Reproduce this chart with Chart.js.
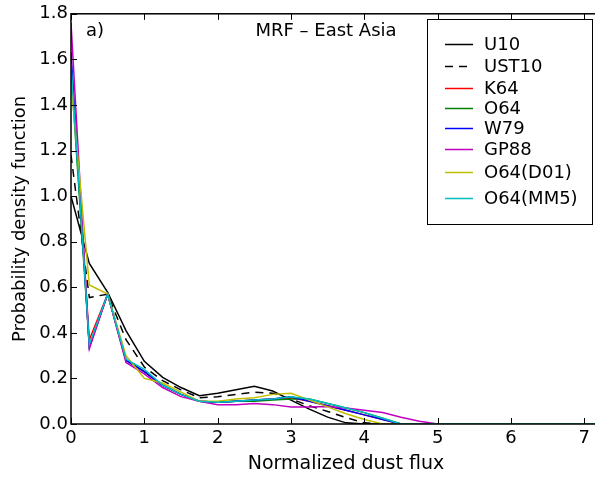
<!DOCTYPE html>
<html>
<head>
<meta charset="utf-8">
<title>MRF - East Asia</title>
<script src="https://cdn.jsdelivr.net/npm/chart.js@4/dist/chart.umd.min.js"></script>
<style>
  html, body { margin: 0; padding: 0; background: #fff; overflow: hidden; }
  #wrap { width: 595px; height: 478px; overflow: hidden; }
</style>
</head>
<body>
<div id="wrap"><canvas id="chart" width="640" height="478"></canvas></div>
<script>
// flux bins (normalized dust flux)
const fluxBins = [0, 0.25, 0.5, 0.75, 1, 1.25, 1.5, 1.75, 2, 2.25, 2.5, 2.75, 3, 3.25, 3.5, 3.75,
  4, 4.25, 4.5, 4.75, 5, 5.25, 5.5, 5.75, 6, 6.25, 6.5, 6.75, 7, 7.25, 7.5];

// PDF of each scheme
const u10 = [1.00, 0.705, 0.578, 0.41, 0.275, 0.205, 0.16, 0.124, 0.135, 0.15, 0.166, 0.145, 0.105, 0.065, 0.03, 0.005,
  0, 0, 0, 0, 0, 0, 0, 0, 0, 0, 0, 0, 0, 0, 0];
const ust10 = [1.18, 0.555, 0.57, 0.37, 0.25, 0.19, 0.15, 0.115, 0.12, 0.13, 0.14, 0.135, 0.11, 0.08, 0.055, 0.028,
  0.005, 0, 0, 0, 0, 0, 0, 0, 0, 0, 0, 0, 0, 0, 0];
const k64 = [1.60, 0.37, 0.57, 0.28, 0.23, 0.17, 0.13, 0.10, 0.095, 0.10, 0.105, 0.11, 0.115, 0.10, 0.08, 0.06,
  0.04, 0.02, 0, 0, 0, 0, 0, 0, 0, 0, 0, 0, 0, 0, 0];
const o64 = [1.55, 0.34, 0.57, 0.28, 0.23, 0.17, 0.13, 0.10, 0.095, 0.10, 0.10, 0.105, 0.11, 0.11, 0.09, 0.07,
  0.05, 0.025, 0, 0, 0, 0, 0, 0, 0, 0, 0, 0, 0, 0, 0];
const w79 = [1.63, 0.34, 0.57, 0.28, 0.23, 0.17, 0.13, 0.10, 0.095, 0.10, 0.105, 0.11, 0.12, 0.10, 0.08, 0.06,
  0.04, 0.02, 0, 0, 0, 0, 0, 0, 0, 0, 0, 0, 0, 0, 0];
const gp88 = [1.76, 0.33, 0.57, 0.27, 0.22, 0.16, 0.12, 0.10, 0.085, 0.085, 0.09, 0.085, 0.075, 0.075, 0.077, 0.07,
  0.06, 0.05, 0.03, 0.012, 0, 0, 0, 0, 0, 0, 0, 0, 0, 0, 0];
const o64d01 = [1.50, 0.61, 0.57, 0.30, 0.20, 0.18, 0.14, 0.10, 0.10, 0.11, 0.115, 0.13, 0.135, 0.105, 0.075, 0.045,
  0.02, 0, 0, 0, 0, 0, 0, 0, 0, 0, 0, 0, 0, 0, 0];
const o64mm5 = [1.58, 0.35, 0.57, 0.285, 0.24, 0.17, 0.13, 0.10, 0.095, 0.10, 0.105, 0.11, 0.12, 0.11, 0.09, 0.07,
  0.05, 0.025, 0, 0, 0, 0, 0, 0, 0, 0, 0, 0, 0, 0, 0];

const seriesNames = ['U10', 'UST10', 'K64', 'O64', 'W79', 'GP88', 'O64(D01)', 'O64(MM5)'];
const seriesValues = [u10, ust10, k64, o64, w79, gp88, o64d01, o64mm5];
const seriesColors = ['#000000', '#000000', '#ff0000', '#008000', '#0000ff', '#bf00bf', '#bfbf00', '#00bfbf'];
const seriesDash = [[], [8, 6], [], [], [], [], [], []];

const xTicks = [0, 1, 2, 3, 4, 5, 6, 7];
const yTicks = [0, 0.2, 0.4, 0.6, 0.8, 1.0, 1.2, 1.4, 1.6, 1.8];

const FONT = '"DejaVu Sans", sans-serif';

const datasets = seriesNames.map((name, i) => ({
  label: name,
  data: fluxBins.map((x, j) => ({ x: x, y: seriesValues[i][j] })),
  borderColor: seriesColors[i],
  borderDash: seriesDash[i],
  borderWidth: 1.5,
  pointRadius: 0,
  fill: false,
  tension: 0,
  order: seriesNames.length - i
}));

// frame, inward ticks on all four sides, panel texts and legend box
const decor = {
  id: 'decor',
  afterDatasetsDraw(chart) {
    const ctx = chart.ctx;
    const a = chart.chartArea;
    const xs = chart.scales.x, ys = chart.scales.y;
    ctx.save();
    ctx.strokeStyle = '#000';
    ctx.lineWidth = 1;
    xTicks.forEach(v => {
      const px = Math.round(xs.getPixelForValue(v)) + 0.5;
      ctx.beginPath();
      ctx.moveTo(px, a.bottom); ctx.lineTo(px, a.bottom - 6);
      ctx.moveTo(px, a.top); ctx.lineTo(px, a.top + 6);
      ctx.stroke();
    });
    yTicks.forEach(v => {
      const py = Math.round(ys.getPixelForValue(v)) + 0.5;
      ctx.beginPath();
      ctx.moveTo(a.left, py); ctx.lineTo(a.left + 6, py);
      ctx.moveTo(a.right, py); ctx.lineTo(a.right - 6, py);
      ctx.stroke();
    });
    ctx.lineWidth = 1.5;
    ctx.strokeRect(a.left, a.top, a.right - a.left, a.bottom - a.top);

    ctx.fillStyle = '#000';
    ctx.font = '18px ' + FONT;
    ctx.textBaseline = 'middle';
    ctx.textAlign = 'left';
    ctx.fillText('a)', a.left + 15, a.top + 18);
    ctx.textAlign = 'center';
    ctx.fillText('MRF \u2013 East Asia', 326, a.top + 18);

    // legend
    const bx = 427, by = 19, bw = 165, bh = 205;
    ctx.fillStyle = '#fff';
    ctx.fillRect(bx, by, bw, bh);
    ctx.lineWidth = 1;
    ctx.strokeRect(bx + 0.5, by + 0.5, bw, bh);
    const rows = [44, 66, 88, 108, 128, 149, 172, 198];
    ctx.textAlign = 'left';
    ctx.font = '18px ' + FONT;
    chart.data.datasets.forEach((ds, i) => {
      const y = rows[i] + 0.5;
      ctx.strokeStyle = ds.borderColor;
      ctx.lineWidth = 1.5;
      ctx.setLineDash(ds.borderDash);
      ctx.beginPath();
      ctx.moveTo(445, y); ctx.lineTo(473, y);
      ctx.stroke();
      ctx.setLineDash([]);
      ctx.fillStyle = '#000';
      ctx.fillText(ds.label, 484, rows[i] + 1);
    });
    ctx.restore();
  }
};

new Chart(document.getElementById('chart'), {
  type: 'line',
  data: { datasets: datasets },
  options: {
    responsive: false,
    animation: false,
    layout: { padding: { top: 13, right: 19, left: 0, bottom: 0 } },
    plugins: { legend: { display: false }, tooltip: { enabled: false } },
    scales: {
      x: {
        type: 'linear',
        min: 0, max: 7.5,
        afterBuildTicks(scale) { scale.ticks = xTicks.map(v => ({ value: v })); },
        afterFit(scale) { scale.height = 54; },
        border: { display: false },
        grid: { display: false, drawTicks: false },
        ticks: { color: '#000', padding: 4, font: { family: FONT, size: 18 }, maxRotation: 0,
          callback: v => String(v) },
        title: { display: true, text: 'Normalized dust flux', color: '#000',
          font: { family: FONT, size: 19 }, padding: { top: 0, bottom: 3 } }
      },
      y: {
        min: 0, max: 1.8,
        afterBuildTicks(scale) { scale.ticks = yTicks.map(v => ({ value: v })); },
        afterFit(scale) { scale.width = 71; },
        border: { display: false },
        grid: { display: false, drawTicks: false },
        ticks: { color: '#000', padding: 3, font: { family: FONT, size: 18 },
          callback: v => Number(v).toFixed(1) },
        title: { display: true, text: 'Probability density function', color: '#000',
          font: { family: FONT, size: 18 }, padding: { top: 10, bottom: 0 } }
      }
    }
  },
  plugins: [decor]
});
</script>
</body>
</html>
